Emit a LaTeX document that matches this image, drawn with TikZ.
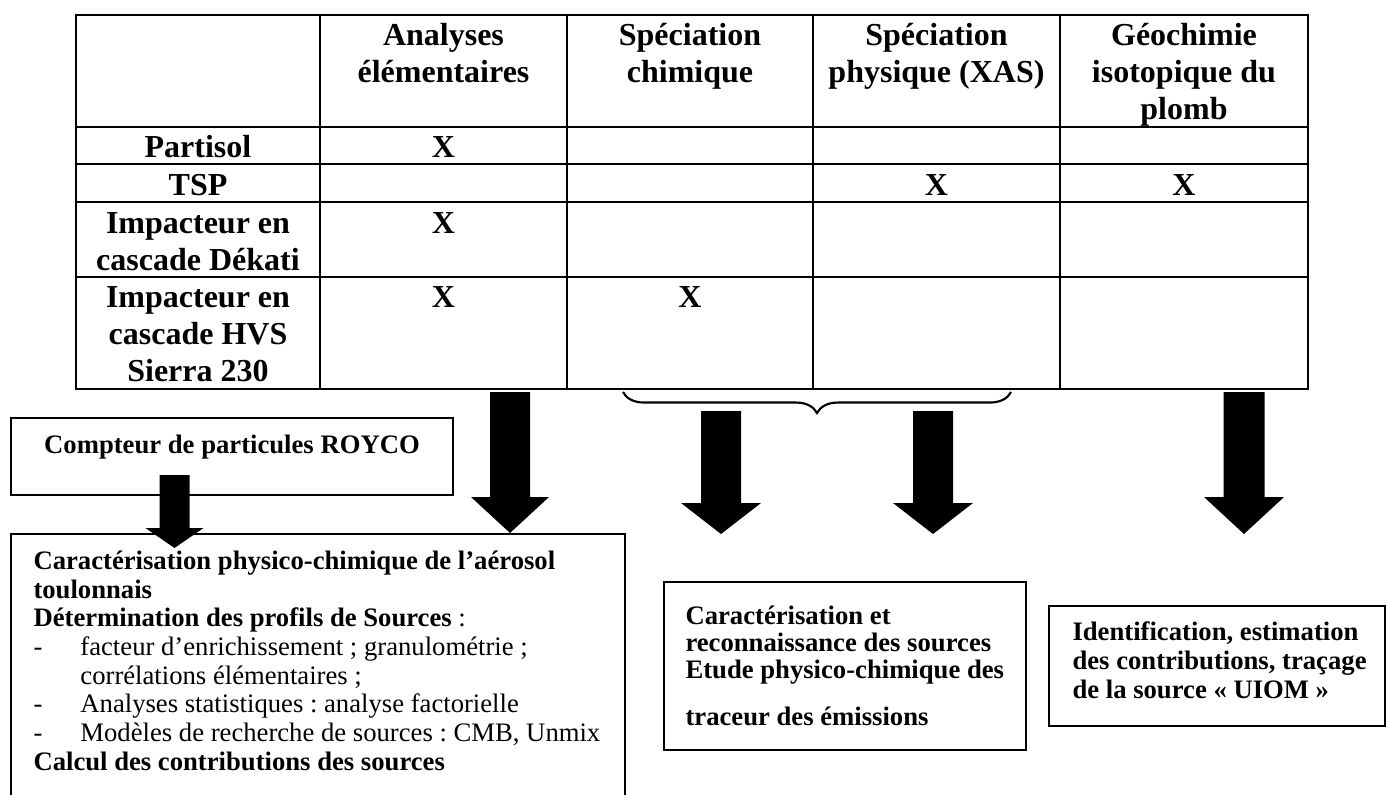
\documentclass[tikz,border=0pt]{standalone}
\usepackage{fontspec}
\setmainfont{Liberation Serif}
\usetikzlibrary{calc,fit,decorations.pathreplacing}
\frenchspacing

\newcommand\ftop{\rule{0pt}{11.5pt}}
\newcommand\fsm{\rule{0pt}{9.6pt}}
\newcommand\dsh{\makebox[17.6pt][l]{-}}
\newcommand\blockarrow[5]{%
  \fill[arrowfill] ($(#1)+(-#3,0)$) -- ($(#1)+(#3,0)$) -- ($(#2)+(#3,-#5)$)
    -- ($(#2)+(#4,-#5)$) -- (#2) -- ($(#2)+(-#4,-#5)$) -- ($(#2)+(-#3,-#5)$) -- cycle;}

\tikzset{
  cell/.style={font=\fontsize{12}{13.8}\selectfont\bfseries, align=center, anchor=north, inner sep=0pt},
  box/.style={draw, line width=0.75pt, inner sep=0pt},
  tline/.style={line width=0.7pt},
  touter/.style={line width=0.9pt},
  arrowfill/.style={fill=black},
  bracestyle/.style={decorate, decoration={brace, mirror, amplitude=7.9pt}, line width=0.8pt},
}

\begin{document}
\begin{tikzpicture}[x=0.375pt, y=-0.375pt]
\useasboundingbox (0,0) rectangle (1386,794);

% ---- table grid
\foreach \xx in {320,567,813,1060} \draw[tline] (\xx,15) -- (\xx,389);
\foreach \yy in {127,164,202,277} \draw[tline] (76,\yy) -- (1308,\yy);
\draw[touter] (76,15) rectangle (1308,389);

% ---- header
\node[cell] (h2) at (443.5,14.33) {\ftop Analyses\\élémentaires};
\node[cell] (h3) at (690,14.33) {\ftop Spéciation\\chimique};
\node[cell] (h4) at (936.5,14.33) {\ftop Spéciation\\physique (XAS)};
\node[cell] (h5) at (1184,14.33) {\ftop Géochimie\\isotopique du\\plomb};

% ---- rows
\node[cell] (r1) at (198,126.33) {\ftop Partisol};
\node[cell] (r1c2) at (443.5,126.33) {\ftop X};

\node[cell] (r2) at (198,164.33) {\ftop TSP};
\node[cell] (r2c4) at (936.5,164.33) {\ftop X};
\node[cell] (r2c5) at (1184,164.33) {\ftop X};

\node[cell] (r3) at (198,202.33) {\ftop Impacteur en\\cascade Dékati};
\node[cell] (r3c2) at (443.5,202.33) {\ftop X};

\node[cell] (r4) at (198,276.33) {\ftop Impacteur en\\cascade HVS\\Sierra 230};
\node[cell] (r4c2) at (443.5,276.33) {\ftop X};
\node[cell] (r4c3) at (690,276.33) {\ftop X};

% ---- boxes
\node[box, fit={(11,418) (453,495)}] (royco) {};
\node[font=\fontsize{10}{11}\selectfont\bfseries, anchor=base, inner sep=0pt] (roycotxt) at (232,453) {Compteur de particules ROYCO};

\node[box, fit={(11,534) (625,800)}] (carac) {};
\node[font=\fontsize{10}{10.75}\selectfont, align=left, anchor=north west, inner sep=0pt] (caractxt) at (33,543.4)
{\fsm\textbf{Caractérisation physico-chimique de l’aérosol}\\
\textbf{toulonnais}\\
\textbf{Détermination des profils de Sources} :\\
\dsh facteur d’enrichissement ; granulométrie ;\\
\hspace*{17.6pt}corrélations élémentaires ;\\
\dsh Analyses statistiques : analyse factorielle\\
\dsh Modèles de recherche de sources : CMB, Unmix\\
\textbf{Calcul des contributions des sources}};

\node[box, fit={(664,582) (1026,750)}] (reco) {};
\node[font=\fontsize{10}{10.125}\selectfont\bfseries, align=left, anchor=north west, inner sep=0pt] (recotxt) at (685,598.4)
{\fsm Caractérisation et\\
reconnaissance des sources\\
Etude physico-chimique des\\[7.5pt]
traceur des émissions};

\node[box, fit={(1049,606) (1384.5,726)}] (ident) {};
\node[font=\fontsize{10}{10.875}\selectfont\bfseries, align=left, anchor=north west, inner sep=0pt] (identtxt) at (1072,614.4)
{\fsm Identification, estimation\\
des contributions, traçage\\
de la source «~UIOM~»};

% ---- brace
\coordinate (br1) at (623,392);
\coordinate (br2) at (1011,392);
\draw[bracestyle] (br1) -- (br2);

% ---- block arrows
\coordinate (a1s) at (510,392);   \coordinate (a1e) at (510,533);
\coordinate (ars) at (174.5,475); \coordinate (are) at (174.5,548);
\coordinate (a2s) at (721,411);   \coordinate (a2e) at (721,534);
\coordinate (a3s) at (933,411);   \coordinate (a3e) at (933,534);
\coordinate (a4s) at (1244,392);  \coordinate (a4e) at (1244,534);
\blockarrow{a1s}{a1e}{20}{39}{36}
\blockarrow{ars}{are}{15}{29}{20}
\blockarrow{a2s}{a2e}{20}{40}{31}
\blockarrow{a3s}{a3e}{20}{40}{31}
\blockarrow{a4s}{a4e}{20.5}{40}{37}
\end{tikzpicture}
\end{document}
